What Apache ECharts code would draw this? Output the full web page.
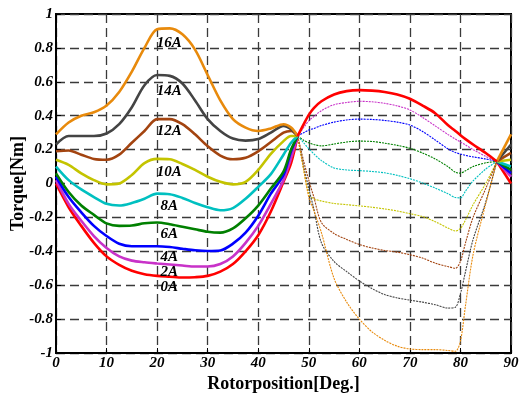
<!DOCTYPE html>
<html>
<head>
<meta charset="utf-8">
<script src="https://cdn.jsdelivr.net/npm/echarts@6/dist/echarts.min.js"></script>
<style>html,body{margin:0;padding:0;background:#fff;}#c{width:519px;height:394px;}</style>
</head>
<body>
<div id="c"></div>
<script>
// ---- data ----
const currents = ['0A','2A','4A','6A','8A','10A','12A','14A','16A'];
const LX = [0,2.5,5,7.5,10,12.5,15,17.5,20,22.5,25,27.5,30,32.5,35,37.5,40,42.5,45,46.5,47.8];
const RX = [47.8,49,50,51,52.5,55,57.5,60,62.5,65,67.5,70,72.5,75,77.5,79,80,81,82.5,85,87.2];
const EX = [87.2,90];

const L_0A  = [0.00,-0.14,-0.25,-0.35,-0.43,-0.48,-0.515,-0.535,-0.545,-0.55,-0.555,-0.553,-0.545,-0.52,-0.475,-0.40,-0.305,-0.165,0.01,0.12,0.28];
const L_2A  = [0.02,-0.12,-0.22,-0.31,-0.38,-0.43,-0.455,-0.465,-0.472,-0.478,-0.484,-0.49,-0.49,-0.475,-0.43,-0.35,-0.25,-0.12,0.02,0.15,0.28];
const L_4A  = [0.04,-0.08,-0.17,-0.25,-0.31,-0.355,-0.37,-0.37,-0.37,-0.375,-0.385,-0.394,-0.398,-0.395,-0.355,-0.29,-0.19,-0.06,0.05,0.19,0.28];
const L_6A  = [0.06,-0.05,-0.13,-0.185,-0.235,-0.25,-0.248,-0.235,-0.23,-0.24,-0.255,-0.27,-0.285,-0.29,-0.265,-0.205,-0.13,-0.03,0.07,0.20,0.28];
const L_8A  = [0.10,0.02,-0.035,-0.08,-0.12,-0.13,-0.115,-0.09,-0.06,-0.063,-0.085,-0.115,-0.14,-0.158,-0.145,-0.09,-0.02,0.055,0.17,0.24,0.28];
const L_10A = [0.14,0.11,0.06,0.02,-0.005,0.00,0.05,0.12,0.145,0.143,0.115,0.08,0.04,0.01,-0.005,0.01,0.08,0.175,0.25,0.28,0.28];
const L_12A = [0.19,0.195,0.17,0.145,0.14,0.17,0.24,0.31,0.38,0.38,0.35,0.29,0.22,0.165,0.143,0.152,0.19,0.245,0.30,0.31,0.28];
const L_14A = [0.23,0.28,0.28,0.28,0.295,0.35,0.45,0.58,0.64,0.635,0.59,0.49,0.38,0.31,0.265,0.253,0.262,0.30,0.34,0.32,0.28];
const L_16A = [0.29,0.36,0.40,0.42,0.46,0.54,0.66,0.80,0.91,0.915,0.88,0.79,0.64,0.49,0.38,0.33,0.31,0.325,0.35,0.33,0.28];

const R_0A  = [0.28,0.35,0.405,0.445,0.485,0.525,0.545,0.551,0.548,0.54,0.525,0.50,0.46,0.415,0.345,0.31,0.285,0.262,0.23,0.18,0.13];
const R_2A  = [0.28,0.33,0.37,0.395,0.43,0.465,0.478,0.485,0.482,0.473,0.458,0.434,0.39,0.34,0.29,0.262,0.245,0.228,0.20,0.16,0.13];
const R_4A  = [0.28,0.30,0.315,0.325,0.342,0.362,0.375,0.38,0.378,0.372,0.362,0.345,0.307,0.257,0.205,0.183,0.174,0.166,0.157,0.145,0.13];
const R_6A  = [0.28,0.255,0.24,0.23,0.222,0.233,0.245,0.25,0.248,0.238,0.225,0.208,0.18,0.145,0.10,0.066,0.061,0.075,0.10,0.122,0.13];
const R_8A  = [0.28,0.24,0.205,0.175,0.135,0.092,0.08,0.076,0.071,0.063,0.048,0.028,0.003,-0.027,-0.06,-0.083,-0.085,-0.045,0.015,0.085,0.13];
const R_10A = [0.28,0.08,-0.06,-0.09,-0.103,-0.118,-0.125,-0.132,-0.14,-0.15,-0.162,-0.178,-0.195,-0.225,-0.262,-0.28,-0.265,-0.215,-0.125,0.00,0.13];
const R_12A = [0.28,0.13,0.02,-0.08,-0.23,-0.295,-0.33,-0.36,-0.38,-0.395,-0.405,-0.42,-0.44,-0.47,-0.49,-0.50,-0.46,-0.35,-0.20,-0.03,0.13];
const R_14A = [0.28,0.10,-0.03,-0.15,-0.35,-0.46,-0.52,-0.575,-0.62,-0.655,-0.675,-0.688,-0.70,-0.715,-0.735,-0.73,-0.65,-0.52,-0.33,-0.11,0.13];
const R_16A = [0.28,0.08,-0.08,-0.16,-0.29,-0.56,-0.70,-0.80,-0.875,-0.925,-0.96,-0.976,-0.98,-0.98,-0.985,-0.99,-0.93,-0.72,-0.42,-0.12,0.13];

const E_START = 0.13;
const E_END = [0.00,0.04,0.06,0.08,0.10,0.14,0.18,0.23,0.29];

const labelX = [22.4,22.4,22.4,22.4,22.4,22.4,22.4,22.4,22.4];
const labelY = [-0.613,-0.525,-0.434,-0.30,-0.133,0.068,0.31,0.545,0.827];

const xTicks = [0,10,20,30,40,50,60,70,80,90];
const yTicks = [-1,-0.8,-0.6,-0.4,-0.2,0,0.2,0.4,0.6,0.8,1];

// ---- styles ----
const colors = ['#ff0000','#c832c8','#0000ff','#008000','#00c0c0','#c4c400','#a34410','#444444','#e88a0c'];
const LEFT = [L_0A,L_2A,L_4A,L_6A,L_8A,L_10A,L_12A,L_14A,L_16A];
const RIGHT = [R_0A,R_2A,R_4A,R_6A,R_8A,R_10A,R_12A,R_14A,R_16A];

const series = [];
currents.forEach((c,i)=>{
  series.push({type:'line',name:c+'L',data:LX.map((x,j)=>[x,LEFT[i][j]]),showSymbol:false,smooth:0.3,
    lineStyle:{color:colors[i],width:2.6},z:3,silent:true});
  series.push({type:'line',name:c+'R',data:RX.map((x,j)=>[x,RIGHT[i][j]]),showSymbol:false,smooth:0.3,
    lineStyle: i===0 ? {color:colors[i],width:2.6} : {color:colors[i],width:1.1,type:[2,1]},z: i===0?4:2,silent:true});
  series.push({type:'line',name:c+'E',data:[[EX[0],E_START],[EX[1],E_END[i]]],showSymbol:false,
    lineStyle:{color:colors[i],width:2.6},z:3,silent:true});
});
series.push({type:'scatter',symbolSize:0,silent:true,z:10,itemStyle:{opacity:1},
  data:currents.map((c,i)=>[labelX[i],labelY[i],c]),
  label:{show:true,position:'inside',formatter:p=>p.value[2],color:'#000',opacity:1,textBorderWidth:0,
    fontFamily:'Liberation Serif',fontWeight:'bold',fontStyle:'italic',fontSize:15}});

const chart = echarts.init(document.getElementById('c'),null,{renderer:'canvas'});
const axisFont = {fontFamily:'Liberation Serif',fontWeight:'bold',fontStyle:'italic',fontSize:15,color:'#000'};
chart.setOption({
  animation:false,
  backgroundColor:'#fff',
  grid:{left:56,right:8,top:14,bottom:41,show:true,borderColor:'#000',borderWidth:2,containLabel:false,outerBoundsMode:'none'},
  xAxis:{type:'value',min:xTicks[0],max:xTicks[xTicks.length-1],interval:10,
    name:'Rotorposition[Deg.]',nameLocation:'middle',nameGap:22,nameMoveOverlap:false,
    nameTextStyle:{fontFamily:'Liberation Serif',fontWeight:'bold',fontSize:18,color:'#000'},
    axisLine:{onZero:false,lineStyle:{color:'#000',width:2}},
    axisTick:{inside:true,length:5,lineStyle:{color:'#000'}},
    axisLabel:Object.assign({margin:3},axisFont),
    splitLine:{show:true,lineStyle:{color:'#3a3a3a',width:1.3,type:[9,5]}}},
  yAxis:{type:'value',min:yTicks[0],max:yTicks[yTicks.length-1],interval:0.2,
    name:'Torque[Nm]',nameLocation:'middle',nameGap:29,nameMoveOverlap:false,
    nameTextStyle:{fontFamily:'Liberation Serif',fontWeight:'bold',fontSize:18,color:'#000'},
    axisLine:{onZero:false,lineStyle:{color:'#000',width:2}},
    axisTick:{inside:true,length:5,lineStyle:{color:'#000'}},
    axisLabel:Object.assign({margin:3,formatter:v=>String(Math.round(v*10)/10)},axisFont),
    splitLine:{show:true,lineStyle:{color:'#3a3a3a',width:1.3,type:[9,5]}}},
  series:series
});
</script>
</body>
</html>
